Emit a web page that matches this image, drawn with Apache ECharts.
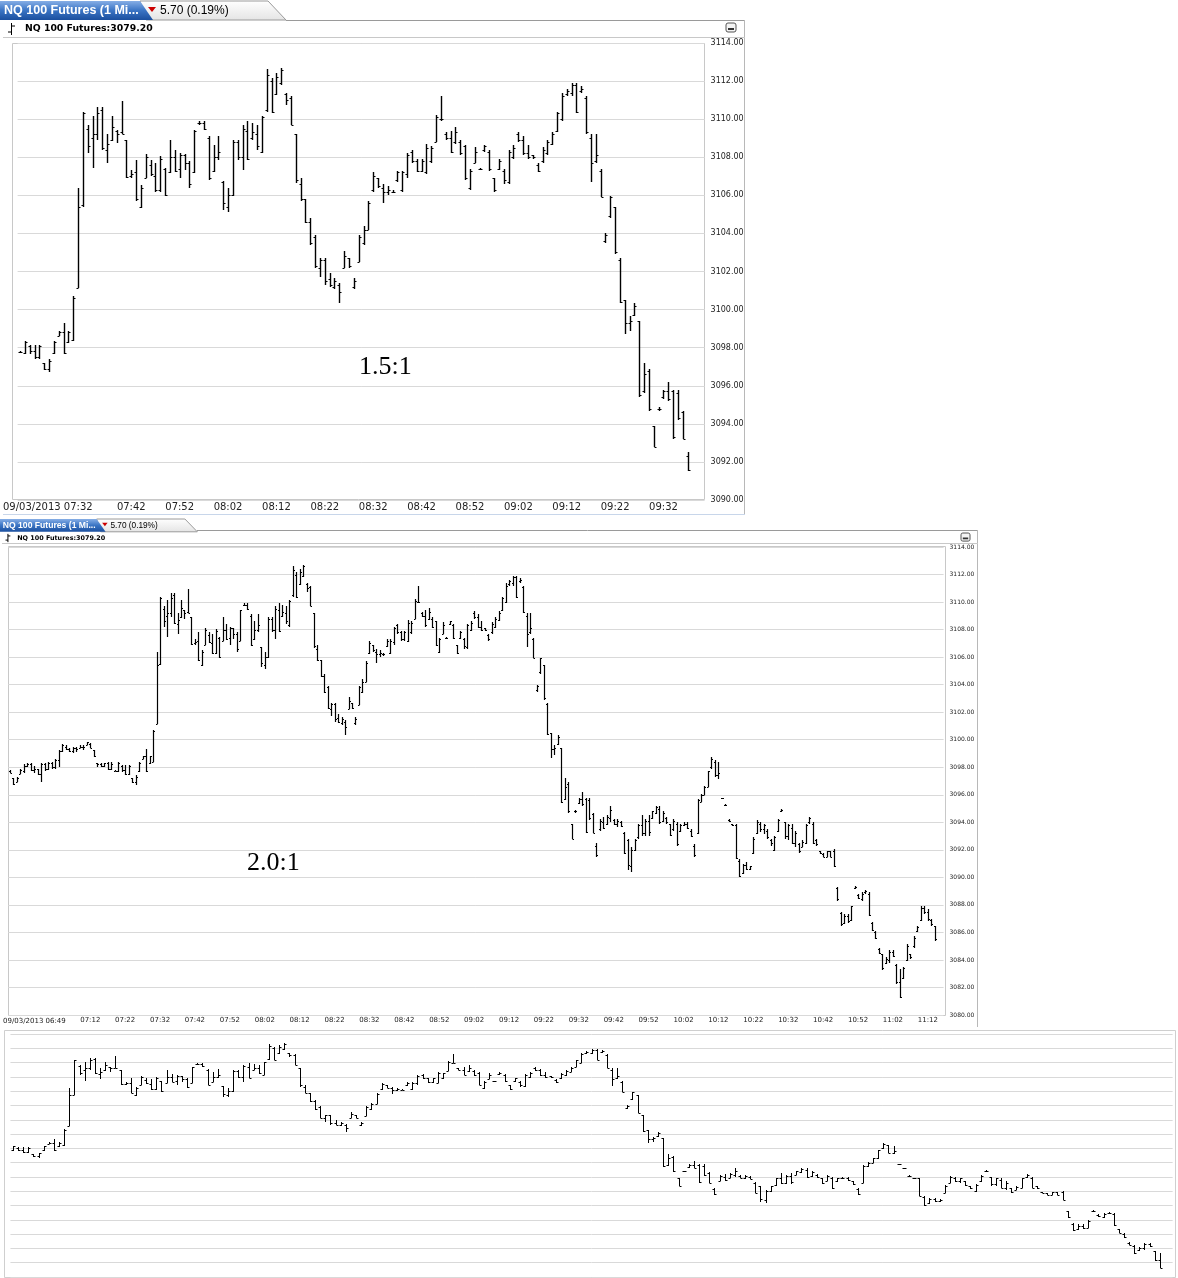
<!DOCTYPE html>
<html><head><meta charset="utf-8">
<script src="https://cdn.jsdelivr.net/npm/echarts@6/dist/echarts.min.js"></script>
<style>html,body{margin:0;padding:0;background:#fff;}#c{width:1178px;height:1278px;}</style>
</head><body><div id="c"></div>
<script>
// 1-minute OHLC bars of NQ 100 Futures, 09/03/2013, starting 06:49
const startTime = '06:49';
const highs = [
3097.8,3097.2,3097.3,3097.9,3098.2,3098.3,3098.3,3098.1,3097.9,3098.3,3098.3,3098.4,3098.4,3098.6,3099.25,3099.7,3099.6,3099.4,3099.5,3099.5,3099.6,3099.6,3099.85,3099.75,3099.25,3098.3,3098.3,3098.3,3098.4,3098.4,
3097.8,3098.35,3098.15,3098.15,3098.15,3097.2,3097.4,3098.35,3098.85,3099.3,3098.85,3100.7,3106.4,3110.4,3109.7,3110.15,3110.65,3110.65,3109.2,3110.15,3109.45,3110.95,3108.9,3107.35,3107.85,3106.55,3108.15,3107.85,3107.7,3108.05,
3107.45,3108.9,3108.4,3108.2,3108.15,3107.8,3109.45,3109.9,3109.9,3109.1,3108.65,3109.1,3106.75,3106.4,3108.9,3108.9,3109.7,3109.9,3109.8,3109.7,3110.15,3112.65,3112.15,3112.4,3112.7,3111.4,3111.2,3109.2,3106.9,3105.8,
3104.8,3103.9,3102.7,3102.7,3101.9,3101.65,3101.4,3103.1,3102.7,3101.65,3103.9,3104.4,3105.7,3107.2,3106.9,3106.6,3106.5,3106.3,3107.3,3107.3,3108.2,3108.4,3107.9,3107.9,3108.7,3108.6,3110.2,3111.2,3109.3,3109.4,
3109.6,3108.9,3108.65,3107.4,3108.55,3107.45,3108.65,3108.4,3106.9,3107.9,3107.4,3108.4,3108.65,3109.35,3109.1,3108.65,3108.1,3107.7,3108.55,3108.9,3109.35,3110.4,3111.4,3111.6,3111.9,3111.9,3111.75,3111.2,3109.2,3109.2,
3107.4,3104.0,3105.95,3105.4,3102.7,3100.5,3099.65,3100.35,3099.4,3097.2,3096.9,3093.9,3094.9,3095.8,3096.2,3095.8,3095.8,3094.7,3092.5,3094.25,3094.4,3094.5,3095.2,3094.25,3094.25,3094.1,3093.3,3092.8,3092.2,3092.8,
3093.9,3094.5,3094.25,3094.5,3094.85,3095.2,3095.2,3094.85,3094.4,3093.9,3094.25,3094.0,3093.9,3094.0,3094.0,3093.5,3092.4,3095.7,3096.05,3096.65,3097.75,3098.75,3098.5,3098.35,3095.8,3095.3,3094.25,3093.9,3093.9,3091.3,
3091.0,3091.1,3090.85,3092.9,3094.15,3094.0,3093.9,3093.5,3092.8,3093.0,3094.25,3095.0,3094.0,3093.9,3093.9,3093.4,3092.5,3092.7,3093.9,3094.4,3094.0,3092.8,3091.95,3091.8,3091.95,3091.95,3092.05,3089.3,3087.5,3087.35,
3087.35,3087.95,3089.4,3088.8,3088.9,3089.05,3088.9,3086.75,3086.1,3084.9,3084.45,3084.2,3084.7,3084.7,3083.7,3083.35,3083.5,3085.15,3084.45,3085.75,3086.5,3087.95,3087.95,3087.7,3087.0,3086.5
];
const lows = [
3097.6,3096.7,3096.9,3097.5,3097.6,3098.0,3097.7,3097.6,3097.45,3096.95,3097.7,3097.8,3097.9,3097.9,3098.0,3099.1,3099.25,3099.1,3099.0,3099.1,3099.4,3099.25,3099.6,3099.4,3098.75,3098.0,3098.0,3098.0,3097.8,3097.8,
3097.7,3097.65,3097.65,3097.4,3097.4,3096.85,3096.7,3097.65,3098.6,3097.65,3098.25,3098.35,3101.15,3105.4,3108.2,3107.45,3108.9,3108.4,3107.7,3108.85,3108.75,3109.2,3106.9,3106.9,3105.7,3105.35,3106.9,3107.0,3106.2,3106.2,
3105.95,3107.15,3107.25,3106.9,3107.35,3106.4,3107.15,3109.7,3109.45,3106.8,3107.25,3107.85,3105.25,3105.15,3105.95,3107.85,3107.35,3107.85,3108.9,3108.4,3108.2,3110.4,3110.3,3111.25,3111.8,3110.75,3109.7,3106.65,3105.7,3104.55,
3103.4,3102.2,3101.7,3101.3,3101.2,3101.1,3100.35,3102.2,3102.2,3101.1,3102.5,3103.4,3104.2,3106.2,3106.4,3105.6,3106.0,3106.1,3106.7,3106.2,3106.9,3107.7,3107.2,3107.2,3107.1,3107.7,3108.8,3109.9,3108.9,3108.2,
3108.7,3108.1,3106.8,3106.3,3107.7,3107.35,3108.3,3107.3,3106.2,3107.35,3106.6,3106.6,3107.9,3108.8,3108.1,3107.9,3107.9,3107.2,3107.7,3108.1,3108.65,3109.35,3109.9,3111.2,3111.2,3110.3,3111.4,3109.2,3106.7,3107.7,
3105.9,3103.5,3104.8,3102.9,3100.35,3098.7,3098.9,3099.65,3095.4,3095.6,3094.7,3092.8,3094.7,3095.3,3095.2,3093.2,3094.2,3093.2,3091.5,3093.4,3093.5,3093.8,3094.0,3093.8,3093.65,3093.65,3091.7,3090.5,3090.4,3091.95,
3092.8,3093.0,3093.0,3093.0,3094.25,3094.6,3093.9,3094.0,3093.9,3093.0,3093.4,3092.3,3093.3,3093.75,3093.5,3092.9,3091.5,3093.15,3095.45,3095.95,3096.55,3097.9,3097.3,3097.15,3095.7,3095.2,3094.0,3093.75,3091.3,3090.0,
3090.25,3090.5,3090.5,3091.7,3093.15,3093.3,3093.15,3092.8,3092.3,3091.95,3093.3,3094.75,3092.8,3092.7,3092.4,3092.2,3091.8,3092.2,3092.4,3093.9,3092.4,3092.3,3091.7,3091.45,3091.45,3091.45,3090.75,3088.3,3086.5,3086.6,
3086.7,3086.85,3089.15,3088.4,3088.3,3088.8,3087.2,3086.1,3085.5,3084.45,3083.25,3083.7,3083.8,3084.2,3082.25,3081.2,3082.6,3083.95,3084.1,3084.9,3086.0,3086.85,3087.35,3086.85,3086.5,3085.4
];
const opens = [
3097.75,3097.2,3096.9,3097.5,3097.7,3098.1,3098.2,3097.8,3097.9,3097.5,3098.2,3097.9,3098.3,3098.0,3098.5,3099.2,3099.5,3099.3,3099.2,3099.4,3099.4,3099.5,3099.6,3099.7,3099.25,3098.3,3098.2,3098.1,3098.3,3097.9,
3097.75,3097.7,3098.1,3097.8,3097.5,3097.2,3096.9,3097.7,3098.6,3098.8,3098.3,3098.4,3101.15,3105.5,3109.5,3109.0,3109.2,3110.5,3108.4,3108.9,3109.4,3109.3,3108.9,3107.0,3107.2,3105.4,3106.9,3107.6,3107.0,3106.3,
3107.4,3107.2,3108.0,3107.4,3108.1,3107.7,3107.2,3109.8,3109.8,3109.0,3107.3,3108.0,3106.7,3105.4,3106.0,3108.8,3108.0,3109.4,3109.0,3109.2,3108.3,3110.5,3112.0,3111.3,3111.9,3111.3,3111.1,3109.2,3106.6,3105.8,
3104.6,3103.8,3102.2,3102.6,3101.6,3101.2,3101.3,3102.2,3102.7,3101.2,3102.5,3103.5,3104.2,3106.3,3106.9,3106.4,3106.2,3106.2,3106.8,3106.3,3107.1,3108.3,3107.8,3107.3,3107.2,3107.8,3108.8,3110.0,3109.2,3109.0,
3108.8,3108.8,3108.6,3106.4,3107.7,3107.4,3108.4,3108.3,3106.9,3107.4,3107.3,3106.7,3108.0,3109.2,3108.9,3108.2,3108.1,3107.6,3107.8,3108.2,3108.7,3109.4,3110.0,3111.3,3111.4,3111.8,3111.5,3111.1,3109.0,3107.8,
3107.3,3103.6,3104.9,3105.4,3102.6,3100.5,3099.3,3099.7,3099.4,3095.7,3096.8,3093.9,3094.8,3095.4,3095.7,3095.7,3095.6,3094.6,3092.3,3093.5,3094.0,3093.9,3094.3,3094.2,3093.9,3094.0,3093.2,3092.7,3090.8,3092.0,
3092.9,3093.8,3093.2,3094.1,3094.3,3094.7,3095.0,3094.1,3094.3,3093.9,3093.5,3093.9,3093.4,3093.8,3093.9,3093.4,3092.3,3093.2,3095.5,3096.0,3096.6,3098.0,3098.4,3097.4,3095.75,3095.25,3094.2,3093.85,3093.8,3091.2,
3090.3,3090.9,3090.6,3091.8,3093.2,3093.9,3093.5,3093.4,3092.7,3092.0,3093.4,3094.8,3094.0,3093.0,3093.6,3092.5,3092.4,3092.2,3092.5,3094.0,3093.9,3092.7,3091.9,3091.7,3091.5,3091.9,3091.9,3089.2,3087.4,3086.7,
3087.2,3086.9,3089.2,3088.7,3088.4,3088.9,3088.8,3086.7,3086.0,3084.8,3084.4,3083.8,3084.0,3084.6,3083.6,3082.4,3082.7,3084.0,3084.4,3085.0,3086.1,3086.9,3087.8,3087.5,3086.9,3086.5
];
const closes = [
3097.6,3096.8,3097.2,3097.8,3098.1,3098.2,3097.8,3097.9,3097.5,3098.2,3097.9,3098.3,3098.0,3098.5,3099.2,3099.6,3099.3,3099.2,3099.4,3099.3,3099.5,3099.5,3099.8,3099.4,3098.8,3098.2,3098.1,3098.3,3097.9,3098.2,
3097.75,3098.3,3097.8,3097.5,3098.1,3096.9,3097.3,3098.3,3098.8,3097.7,3098.8,3100.6,3105.4,3110.3,3108.6,3109.2,3110.3,3108.5,3108.7,3109.6,3109.2,3109.2,3106.95,3107.1,3105.8,3106.4,3108.0,3107.1,3106.3,3107.9,
3106.0,3108.0,3107.3,3108.1,3107.7,3106.6,3109.4,3109.8,3109.5,3106.9,3108.0,3108.3,3105.6,3106.0,3108.8,3108.0,3109.5,3107.9,3109.3,3108.6,3110.1,3112.3,3110.4,3112.2,3112.6,3111.0,3109.7,3106.8,3105.8,3104.6,
3103.5,3102.3,3102.6,3101.5,3101.3,3101.5,3100.9,3102.8,3102.3,3101.5,3103.8,3104.2,3105.6,3107.0,3106.5,3106.2,3106.3,3106.2,3107.2,3107.2,3108.1,3107.8,3107.3,3107.8,3108.5,3108.5,3110.1,3110.0,3109.0,3108.3,
3109.3,3108.2,3106.9,3107.3,3108.3,3107.4,3108.6,3107.4,3106.3,3107.8,3106.8,3108.3,3108.5,3108.9,3108.2,3108.0,3108.0,3107.3,3108.4,3108.8,3109.2,3110.3,3111.2,3111.5,3111.8,3110.4,3111.6,3109.3,3107.7,3108.1,
3105.9,3103.9,3105.9,3103.0,3100.4,3099.3,3099.4,3100.2,3095.5,3096.6,3094.8,3092.8,3094.8,3095.7,3095.3,3093.3,3094.3,3093.2,3091.6,3094.1,3093.6,3094.4,3094.9,3093.9,3094.1,3093.7,3091.8,3090.9,3092.0,3092.7,
3093.8,3093.2,3094.1,3093.3,3094.8,3095.1,3094.0,3094.7,3094.0,3093.1,3094.1,3092.4,3093.8,3093.9,3093.6,3093.0,3091.6,3095.6,3096.0,3096.6,3097.7,3098.6,3097.4,3097.6,3095.75,3095.25,3094.1,3093.8,3091.4,3090.1,
3090.9,3090.6,3090.8,3092.8,3094.0,3093.5,3093.8,3092.9,3092.5,3092.9,3094.2,3094.9,3093.0,3093.8,3092.5,3093.2,3091.9,3092.6,3093.8,3094.3,3092.5,3092.4,3091.8,3091.5,3091.9,3091.5,3090.8,3088.4,3086.6,3087.2,
3086.8,3087.9,3089.3,3088.5,3088.8,3089.0,3087.3,3086.2,3085.6,3084.5,3083.4,3084.1,3084.6,3084.3,3082.4,3081.3,3083.4,3085.0,3084.2,3085.6,3086.4,3087.8,3087.5,3087.0,3086.6,3085.5
];
// bar ranges shown in each panel (indices into the arrays above)
const topRange = [30, 168];
const midRange = [0, 265];
const botRange = [31, 255];
const dateLabel = '09/03/2013';
const headerTab = 'NQ 100 Futures (1 Mi...';
const headerChange = '5.70 (0.19%)';
const headerLast = 'NQ 100 Futures:3079.20';

function minuteLabel(i){
  const p = startTime.split(':');
  const t = (+p[0])*60 + (+p[1]) + i;
  const h = Math.floor(t/60), m = t%60;
  return (h<10?'0':'')+h+':'+(m<10?'0':'')+m;
}
function buildPanel(range, extra){
  const cats = [], data = [];
  for (let i = range[0]; i <= range[1]; i++){
    cats.push(minuteLabel(i));
    data.push([i - range[0], opens[i], highs[i], lows[i], closes[i]]);
  }
  for (let k = 0; k < extra; k++) cats.push('');
  return {cats, data};
}
const P1 = buildPanel(topRange, 3);
const P2 = buildPanel(midRange, 2);
const P3 = buildPanel(botRange, 2);

function ohlcRender(tick, lw){
  return function(params, api){
    const i = api.value(0);
    const pO = api.coord([i, api.value(1)]);
    const pH = api.coord([i, api.value(2)]);
    const pL = api.coord([i, api.value(3)]);
    const pC = api.coord([i, api.value(4)]);
    const x = Math.round(pH[0]) + 0.5;
    let yH = Math.round(pH[1]), yL = Math.round(pL[1]);
    if (yL - yH < 1) yL = yH + 1;
    const yO = Math.round(pO[1]) + 0.5, yC = Math.round(pC[1]) + 0.5;
    const st = {stroke:'#000', lineWidth:lw};
    const st1 = {stroke:'#000', lineWidth:1};
    return {type:'group', children:[
      {type:'line', shape:{x1:x, y1:yH, x2:x, y2:yL}, style:st},
      {type:'line', shape:{x1:x - tick, y1:yO, x2:x, y2:yO}, style:st1},
      {type:'line', shape:{x1:x, y1:yC, x2:x + tick, y2:yC}, style:st1}
    ]};
  };
}
function labelFilter(firstIdx){
  return function(idx, val){ return idx >= firstIdx && val !== '' && val.charAt(4) === '2'; };
}

const chart = echarts.init(document.getElementById('c'), null, {renderer:'canvas'});
const gridCol = '#d9d9d9';
const FONT = 'DejaVu Sans';

function tabGraphics(x0, y0, s){
  return [
    {type:'polygon', shape:{points:[[x0+140*s, y0+1],[x0+268*s, y0+1],[x0+286*s, y0+20*s],[x0+146*s, y0+20*s]]},
      style:{fill:new echarts.graphic.LinearGradient(0,0,0,1,[{offset:0,color:'#ffffff'},{offset:1,color:'#e4e4e4'}]), stroke:'#9a9a9a', lineWidth:1}},
    {type:'polygon', shape:{points:[[x0, y0+1],[x0+140*s, y0+1],[x0+153*s, y0+20*s],[x0, y0+20*s]]},
      style:{fill:new echarts.graphic.LinearGradient(0,0,0,1,[{offset:0,color:'#86aee6'},{offset:0.5,color:'#3a74c4'},{offset:1,color:'#1b4f9e'}])}},
    {type:'text', x:x0+4*s, y:y0+11*s, style:{text:headerTab, fill:'#fff', font:'bold '+(12.5*s)+'px "Liberation Sans"', verticalAlign:'middle'}},
    {type:'polygon', shape:{points:[[x0+148*s, y0+7*s],[x0+156*s, y0+7*s],[x0+152*s, y0+12*s]]}, style:{fill:'#cc0000'}},
    {type:'text', x:x0+160*s, y:y0+11*s, style:{text:headerChange, fill:'#000', font:(12*s)+'px "Liberation Sans"', verticalAlign:'middle'}},
    {type:'text', x:x0+25*s, y:y0+29*s, style:{text:headerLast, fill:'#000', font:'bold '+(9.3*s)+'px "DejaVu Sans"', verticalAlign:'middle'}},
    {type:'line', shape:{x1:x0+11.5*s, y1:y0+23*s, x2:x0+11.5*s, y2:y0+35*s}, style:{stroke:'#000', lineWidth:1}},
    {type:'line', shape:{x1:x0+8*s, y1:y0+32*s, x2:x0+11.5*s, y2:y0+32*s}, style:{stroke:'#000', lineWidth:1}},
    {type:'line', shape:{x1:x0+11.5*s, y1:y0+26*s, x2:x0+15*s, y2:y0+26*s}, style:{stroke:'#000', lineWidth:1}}
  ];
}
function minimizeIcon(x, y, s){
  return [
    {type:'rect', shape:{x:x, y:y, width:10*s, height:9*s, r:2*s}, style:{fill:'#f4f4f4', stroke:'#555', lineWidth:1}},
    {type:'rect', shape:{x:x+2*s, y:y+5*s, width:6*s, height:2*s}, style:{fill:'#333'}}
  ];
}

const graphics = [].concat(
  [{type:'line', shape:{x1:286, y1:20.5, x2:745, y2:20.5}, style:{stroke:'#9a9a9a', lineWidth:1}},
   {type:'line', shape:{x1:744.5, y1:20, x2:744.5, y2:515}, style:{stroke:'#b8b8b8', lineWidth:1}},
   {type:'line', shape:{x1:3, y1:37.5, x2:745, y2:37.5}, style:{stroke:'#c8c8c8', lineWidth:1}},
   {type:'rect', shape:{x:12.5, y:43.5, width:692, height:456}, style:{fill:'none', stroke:'#c8c8c8', lineWidth:1}},
   {type:'line', shape:{x1:3, y1:514.5, x2:745, y2:514.5}, style:{stroke:'#c8d6ea', lineWidth:1}},
   {type:'text', x:3, y:507, style:{text:dateLabel+' 07:32', fill:'#222', font:'10px "DejaVu Sans"', verticalAlign:'middle'}},
   {type:'text', x:359, y:367, style:{text:'1.5:1', fill:'#000', font:'26px "Liberation Serif"', verticalAlign:'middle'}}
  ],
  tabGraphics(0, 0, 1),
  minimizeIcon(726, 23, 1),
  [{type:'line', shape:{x1:197, y1:530.5, x2:978, y2:530.5}, style:{stroke:'#9a9a9a', lineWidth:1}},
   {type:'line', shape:{x1:977.5, y1:530, x2:977.5, y2:1027}, style:{stroke:'#b8b8b8', lineWidth:1}},
   {type:'line', shape:{x1:2, y1:543.5, x2:978, y2:543.5}, style:{stroke:'#c8c8c8', lineWidth:1}},
   {type:'rect', shape:{x:8.5, y:546.5, width:937, height:469}, style:{fill:'none', stroke:'#c8c8c8', lineWidth:1}},
   {type:'text', x:3, y:1021, style:{text:dateLabel+' 06:49', fill:'#222', font:'7px "DejaVu Sans"', verticalAlign:'middle'}},
   {type:'text', x:247, y:863, style:{text:'2.0:1', fill:'#000', font:'26px "Liberation Serif"', verticalAlign:'middle'}}
  ],
  tabGraphics(0, 518, 0.69),
  minimizeIcon(961, 533, 0.9),
  [{type:'rect', shape:{x:4.5, y:1030.5, width:1171, height:247}, style:{fill:'none', stroke:'#cfcfcf', lineWidth:1}}]
);

const option = {
  animation:false,
  backgroundColor:'#fff',
  grid:[
    {left:17.6, top:43, width:687, height:457},
    {left:8.25, top:547, width:935.3, height:468},
    {left:10.44, top:1034, width:1162.2, height:243}
  ],
  xAxis:[
    {gridIndex:0, type:'category', data:P1.cats, boundaryGap:true, axisLine:{show:false}, axisTick:{show:false},
     axisLabel:{interval:labelFilter(23), color:'#222', fontFamily:FONT, fontSize:10, margin:2}},
    {gridIndex:1, type:'category', data:P2.cats, boundaryGap:true, axisLine:{show:false}, axisTick:{show:false},
     axisLabel:{interval:labelFilter(23), color:'#222', fontFamily:FONT, fontSize:7, margin:2}},
    {gridIndex:2, type:'category', data:P3.cats, boundaryGap:true, axisLine:{show:false}, axisTick:{show:false}, axisLabel:{show:false}}
  ],
  yAxis:[
    {gridIndex:0, type:'value', position:'right', min:3090, max:3114, interval:2, axisLine:{show:false}, axisTick:{show:false},
     splitLine:{lineStyle:{color:gridCol}}, axisLabel:{formatter:v=>v.toFixed(2), color:'#222', fontFamily:FONT, fontSize:8, margin:6}},
    {gridIndex:1, type:'value', position:'right', min:3080, max:3114, interval:2, axisLine:{show:false}, axisTick:{show:false},
     splitLine:{lineStyle:{color:gridCol}}, axisLabel:{formatter:v=>v.toFixed(2), color:'#222', fontFamily:FONT, fontSize:6, margin:6}},
    {gridIndex:2, type:'value', min:3080, max:3114, interval:2, axisLine:{show:false}, axisTick:{show:false},
     splitLine:{lineStyle:{color:gridCol}}, axisLabel:{show:false}}
  ],
  series:[
    {type:'custom', xAxisIndex:0, yAxisIndex:0, data:P1.data, renderItem:ohlcRender(2, 1.4), encode:{x:0, y:[1,2,3,4]}, silent:true},
    {type:'custom', xAxisIndex:1, yAxisIndex:1, data:P2.data, renderItem:ohlcRender(1.5, 1.2), encode:{x:0, y:[1,2,3,4]}, silent:true},
    {type:'custom', xAxisIndex:2, yAxisIndex:2, data:P3.data, renderItem:ohlcRender(2, 1), encode:{x:0, y:[1,2,3,4]}, silent:true}
  ],
  graphic:{elements:graphics}
};
chart.setOption(option);
</script>
</body></html>
